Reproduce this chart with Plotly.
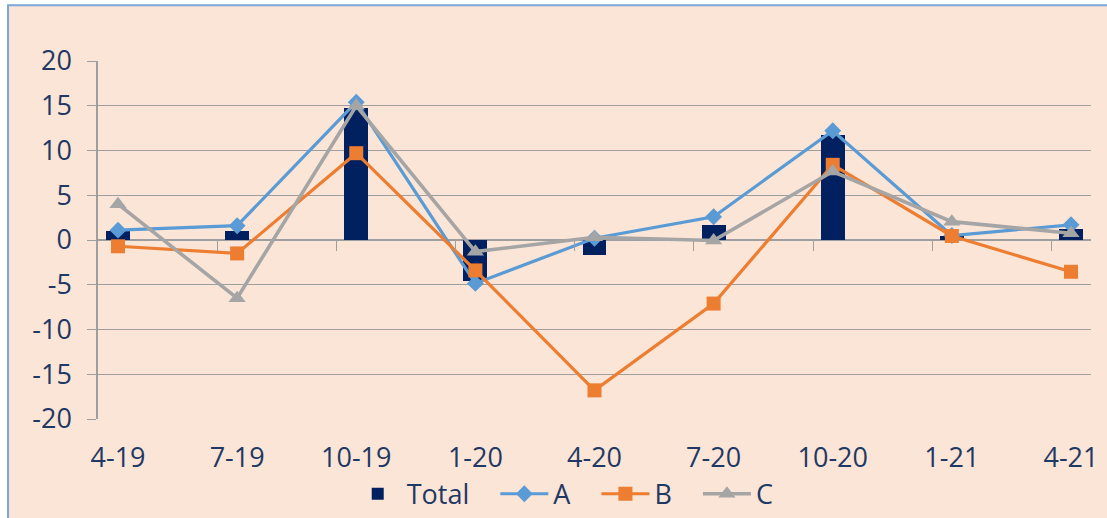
import plotly.graph_objects as go

categories = ["4-19", "7-19", "10-19", "1-20", "4-20", "7-20", "10-20", "1-21", "4-21"]
total = [1.0, 1.0, 14.7, -4.6, -1.7, 1.7, 11.7, 0.5, 1.2]
series_a = [1.1, 1.6, 15.4, -4.85, 0.2, 2.6, 12.2, 0.5, 1.7]
series_b = [-0.7, -1.5, 9.7, -3.4, -16.8, -7.1, 8.4, 0.45, -3.55]
series_c = [4.0, -6.5, 15.0, -1.3, 0.3, -0.05, 7.65, 2.05, 0.75]
y_ticks = [20, 15, 10, 5, 0, -5, -10, -15, -20]
y_tick_text = ["20", "15", "10", "5", "0", "-5", "-10", "-15", "-20"]
legend_names = ["Total", "A", "B", "C"]

pos = list(range(len(categories)))
between_ticks = [p + 0.835 for p in pos[:-1]]

NAVY = "#002060"
TEXT = "#1F3864"
GRID = "#9E9E9E"
FONT = "Open Sans"
FS = 27
PAD = "\u00a0\u00a0\u00a0"

fig = go.Figure()
fig.add_trace(go.Bar(x=pos, y=total, name=legend_names[0] + PAD,
                     marker=dict(color=NAVY, line=dict(width=0)), width=0.2))
fig.add_trace(go.Scatter(x=pos, y=series_a, name=legend_names[1] + PAD, mode="lines+markers",
                         line=dict(color="#5B9BD5", width=3.2),
                         marker=dict(symbol="diamond", size=13, color="#5B9BD5")))
fig.add_trace(go.Scatter(x=pos, y=series_b, name=legend_names[2] + PAD, mode="lines+markers",
                         line=dict(color="#ED7D31", width=3.2),
                         marker=dict(symbol="square", size=14, color="#ED7D31")))
fig.add_trace(go.Scatter(x=pos, y=series_c, name=legend_names[3], mode="lines+markers",
                         line=dict(color="#A5A5A5", width=3.6),
                         marker=dict(symbol="triangle-up", size=15, color="#A5A5A5")))
# invisible helper trace so the tick-mark axis renders
fig.add_trace(go.Scatter(x=pos, y=series_c, xaxis="x2", mode="lines", opacity=0,
                         showlegend=False, hoverinfo="skip"))

xr = [-0.168, 8.168]
fig.update_layout(
    width=1107, height=518,
    margin=dict(l=98, r=16, t=61, b=99, autoexpand=False),
    paper_bgcolor="white",
    plot_bgcolor="rgba(0,0,0,0)",
    font=dict(family=FONT, size=FS, color=TEXT),
    bargap=0,
    showlegend=True,
    legend=dict(orientation="h", x=0.469, xanchor="center", y=-0.21, yanchor="middle",
                font=dict(size=FS, color=TEXT), bgcolor="rgba(0,0,0,0)",
                traceorder="normal", itemwidth=48),
    xaxis=dict(range=xr, tickmode="array", tickvals=pos, ticktext=categories,
               showgrid=False, zeroline=False, showline=False,
               ticks="outside", ticklen=15, tickcolor="rgba(0,0,0,0)",
               tickfont=dict(size=FS, color=TEXT), fixedrange=True, automargin=False),
    xaxis2=dict(range=xr, overlaying="x", anchor="free", position=0.5, side="bottom",
                tickmode="array", tickvals=between_ticks, showticklabels=False,
                ticks="outside", ticklen=10, tickcolor=GRID, tickwidth=1.3,
                showgrid=False, zeroline=False, showline=False, automargin=False),
    yaxis=dict(range=[-20, 20], tickmode="array", tickvals=y_ticks, ticktext=y_tick_text,
               showgrid=True, gridcolor=GRID, gridwidth=1.3,
               zeroline=True, zerolinecolor=GRID, zerolinewidth=1.5,
               showline=True, linecolor=GRID, linewidth=1.5,
               ticks="outside", ticklen=9, tickcolor=GRID, tickwidth=1.3,
               ticklabelstandoff=10, automargin=False,
               tickfont=dict(size=FS, color=TEXT)),
    shapes=[dict(type="rect", xref="paper", yref="paper",
                 x0=-0.0906, x1=1.2, y0=-0.6, y1=1.156,
                 fillcolor="#FBE5D6", line=dict(color="#7AA6DA", width=2), layer="below")],
)

fig.write_html("out.html", config={"displayModeBar": False},
               post_script="document.body.style.margin='0';document.body.style.overflow='hidden';")
